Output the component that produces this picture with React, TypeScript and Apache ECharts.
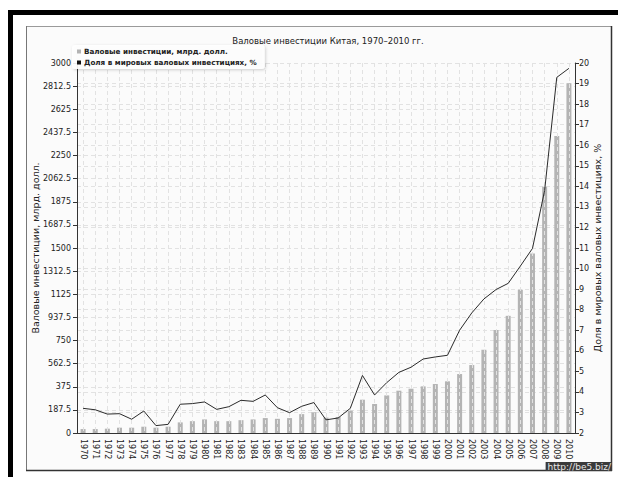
import React, { useEffect, useRef } from "react";
import * as echarts from "echarts";

const years = [
  "1970", "1971", "1972", "1973", "1974", "1975", "1976", "1977", "1978", "1979",
  "1980", "1981", "1982", "1983", "1984", "1985", "1986", "1987", "1988", "1989",
  "1990", "1991", "1992", "1993", "1994", "1995", "1996", "1997", "1998", "1999",
  "2000", "2001", "2002", "2003", "2004", "2005", "2006", "2007", "2008", "2009", "2010",
];

const investment = [
  32, 32, 35, 43, 43, 51, 43, 51, 86, 96,
  110, 96, 96, 104, 110, 121, 115, 121, 153, 168,
  125, 130, 181, 270, 235, 305, 343, 359, 378, 397,
  419, 478, 551, 675, 835, 950, 1162, 1455, 1997, 2408, 2836,
];

const worldShare = [
  3.2, 3.13, 2.92, 2.94, 2.67, 3.07, 2.36, 2.42, 3.4, 3.43,
  3.51, 3.15, 3.28, 3.59, 3.54, 3.85, 3.23, 2.99, 3.3, 3.48,
  2.64, 2.73, 3.2, 4.8, 3.85, 4.45, 4.95, 5.2, 5.6, 5.7,
  5.78, 7.0, 7.84, 8.52, 8.98, 9.28, 10.12, 10.98, 13.8, 19.3, 19.74,
];

const titleText = "Валовые инвестиции Китая, 1970–2010 гг.";
const barName = "Валовые инвестиции, млрд. долл.";
const lineName = "Доля в мировых валовых инвестициях, %";
const watermark = "http://be5.biz/";

const FONT = "DejaVu Sans";

export default function App() {
  const ref = useRef<HTMLDivElement>(null);
  useEffect(() => {
    if (!ref.current) return;
    const chart = echarts.init(ref.current, null, { renderer: "svg" });
    const grid = "#e2e2e2";
    chart.setOption({
      animation: false,
      backgroundColor: "#ffffff",
      textStyle: { fontFamily: FONT },
      title: {
        text: titleText,
        left: 323,
        textAlign: "center",
        top: 31,
        textStyle: { fontFamily: FONT, fontSize: 8.5, fontWeight: "normal", color: "#222" },
      },
      legend: {
        orient: "vertical",
        left: 72,
        top: 45,
        itemWidth: 4,
        itemHeight: 4,
        itemGap: 4,
        padding: [3, 8, 3, 5],
        backgroundColor: "rgba(255,255,255,0.9)",
        borderRadius: 3,
        shadowColor: "rgba(0,0,0,0.2)",
        shadowBlur: 3,
        shadowOffsetX: 1,
        shadowOffsetY: 1,
        icon: "rect",
        textStyle: { fontFamily: FONT, fontSize: 7.2, fontWeight: "bold", color: "#222", padding: [0, 0, 0, -2] },
        data: [barName, lineName],
        z: 10,
      },
      grid: { left: 77, right: 43, top: 63, height: 370, containLabel: false },
      xAxis: {
        type: "category",
        data: years,
        boundaryGap: true,
        z: 5,
        axisLine: { lineStyle: { color: "#333", width: 1 } },
        axisTick: { alignWithLabel: true, length: 4, lineStyle: { color: "#333" } },
        axisLabel: { rotate: -90, fontFamily: FONT, fontSize: 8, color: "#222", margin: 6, interval: 0 },
        splitLine: { show: true, alignWithLabel: true, lineStyle: { color: grid, type: [4, 3], width: 1 } },
      },
      yAxis: [
        {
          type: "value",
          min: 0,
          max: 3000,
          interval: 187.5,
          name: barName,
          nameLocation: "middle",
          nameGap: 37,
          nameMoveOverlap: false,
          nameTextStyle: { fontFamily: FONT, fontSize: 9.5, color: "#222" },
          axisLine: { show: true, lineStyle: { color: "#333" } },
          axisTick: { show: true, length: 4, lineStyle: { color: "#333" } },
          axisLabel: { fontFamily: FONT, fontSize: 8, color: "#222", margin: 6, formatter: (v: number) => String(v) },
          splitLine: { show: true, lineStyle: { color: grid, type: [4, 3] } },
        },
        {
          type: "value",
          min: 2,
          max: 20,
          interval: 1,
          position: "right",
          name: lineName,
          nameLocation: "middle",
          nameGap: 17,
          nameMoveOverlap: false,
          nameRotate: 90,
          nameTextStyle: { fontFamily: FONT, fontSize: 9.5, color: "#222" },
          axisLine: { show: true, lineStyle: { color: "#333" } },
          axisTick: { show: true, length: 4, lineStyle: { color: "#333" } },
          axisLabel: { fontFamily: FONT, fontSize: 8, color: "#222", margin: 4 },
          splitLine: { show: true, lineStyle: { color: grid, type: [4, 3] } },
        },
      ],
      series: [
        {
          name: barName,
          type: "bar",
          data: investment,
          yAxisIndex: 0,
          barWidth: 5,
          itemStyle: { color: "#b4b4b4" },
        },
        {
          name: lineName,
          type: "line",
          data: worldShare,
          yAxisIndex: 1,
          showSymbol: false,
          symbol: "none",
          z: 6,
          lineStyle: { color: "#2a2a2a", width: 1 },
          itemStyle: { color: "#111" },
        },
      ],
      graphic: [
        { type: "rect", z: -20, shape: { x: 8, y: 10, width: 610, height: 5 }, style: { fill: "#000" } },
        { type: "rect", z: -20, shape: { x: 8, y: 10, width: 5, height: 467 }, style: { fill: "#000" } },
        { type: "rect", z: -20, shape: { x: 26, y: 26, width: 586, height: 444 }, style: { fill: "#fbfbfb" } },
        { type: "line", z: -19, shape: { x1: 26, y1: 26.5, x2: 612, y2: 26.5 }, style: { stroke: "#9a9a9a", lineWidth: 1 } },
        { type: "line", z: -19, shape: { x1: 26.5, y1: 26, x2: 26.5, y2: 470 }, style: { stroke: "#777", lineWidth: 1 } },
        { type: "line", z: -19, shape: { x1: 611.5, y1: 26, x2: 611.5, y2: 471 }, style: { stroke: "#333", lineWidth: 1.5 } },
        { type: "line", z: -19, shape: { x1: 26, y1: 470.5, x2: 612, y2: 470.5 }, style: { stroke: "#333", lineWidth: 1.5 } },
        {
          type: "text",
          z: 20,
          x: 612,
          y: 462,
          style: {
            text: watermark,
            fontFamily: FONT,
            fontSize: 9,
            fill: "#e8e8e8",
            backgroundColor: "#3a3a3a",
            padding: [0, 1, 0, 2],
            align: "right",
            verticalAlign: "top",
          },
        },
      ],
    });
    return () => chart.dispose();
  }, []);
  return <div ref={ref} style={{ position: "absolute", left: 0, top: 0, width: 618, height: 477 }} />;
}
